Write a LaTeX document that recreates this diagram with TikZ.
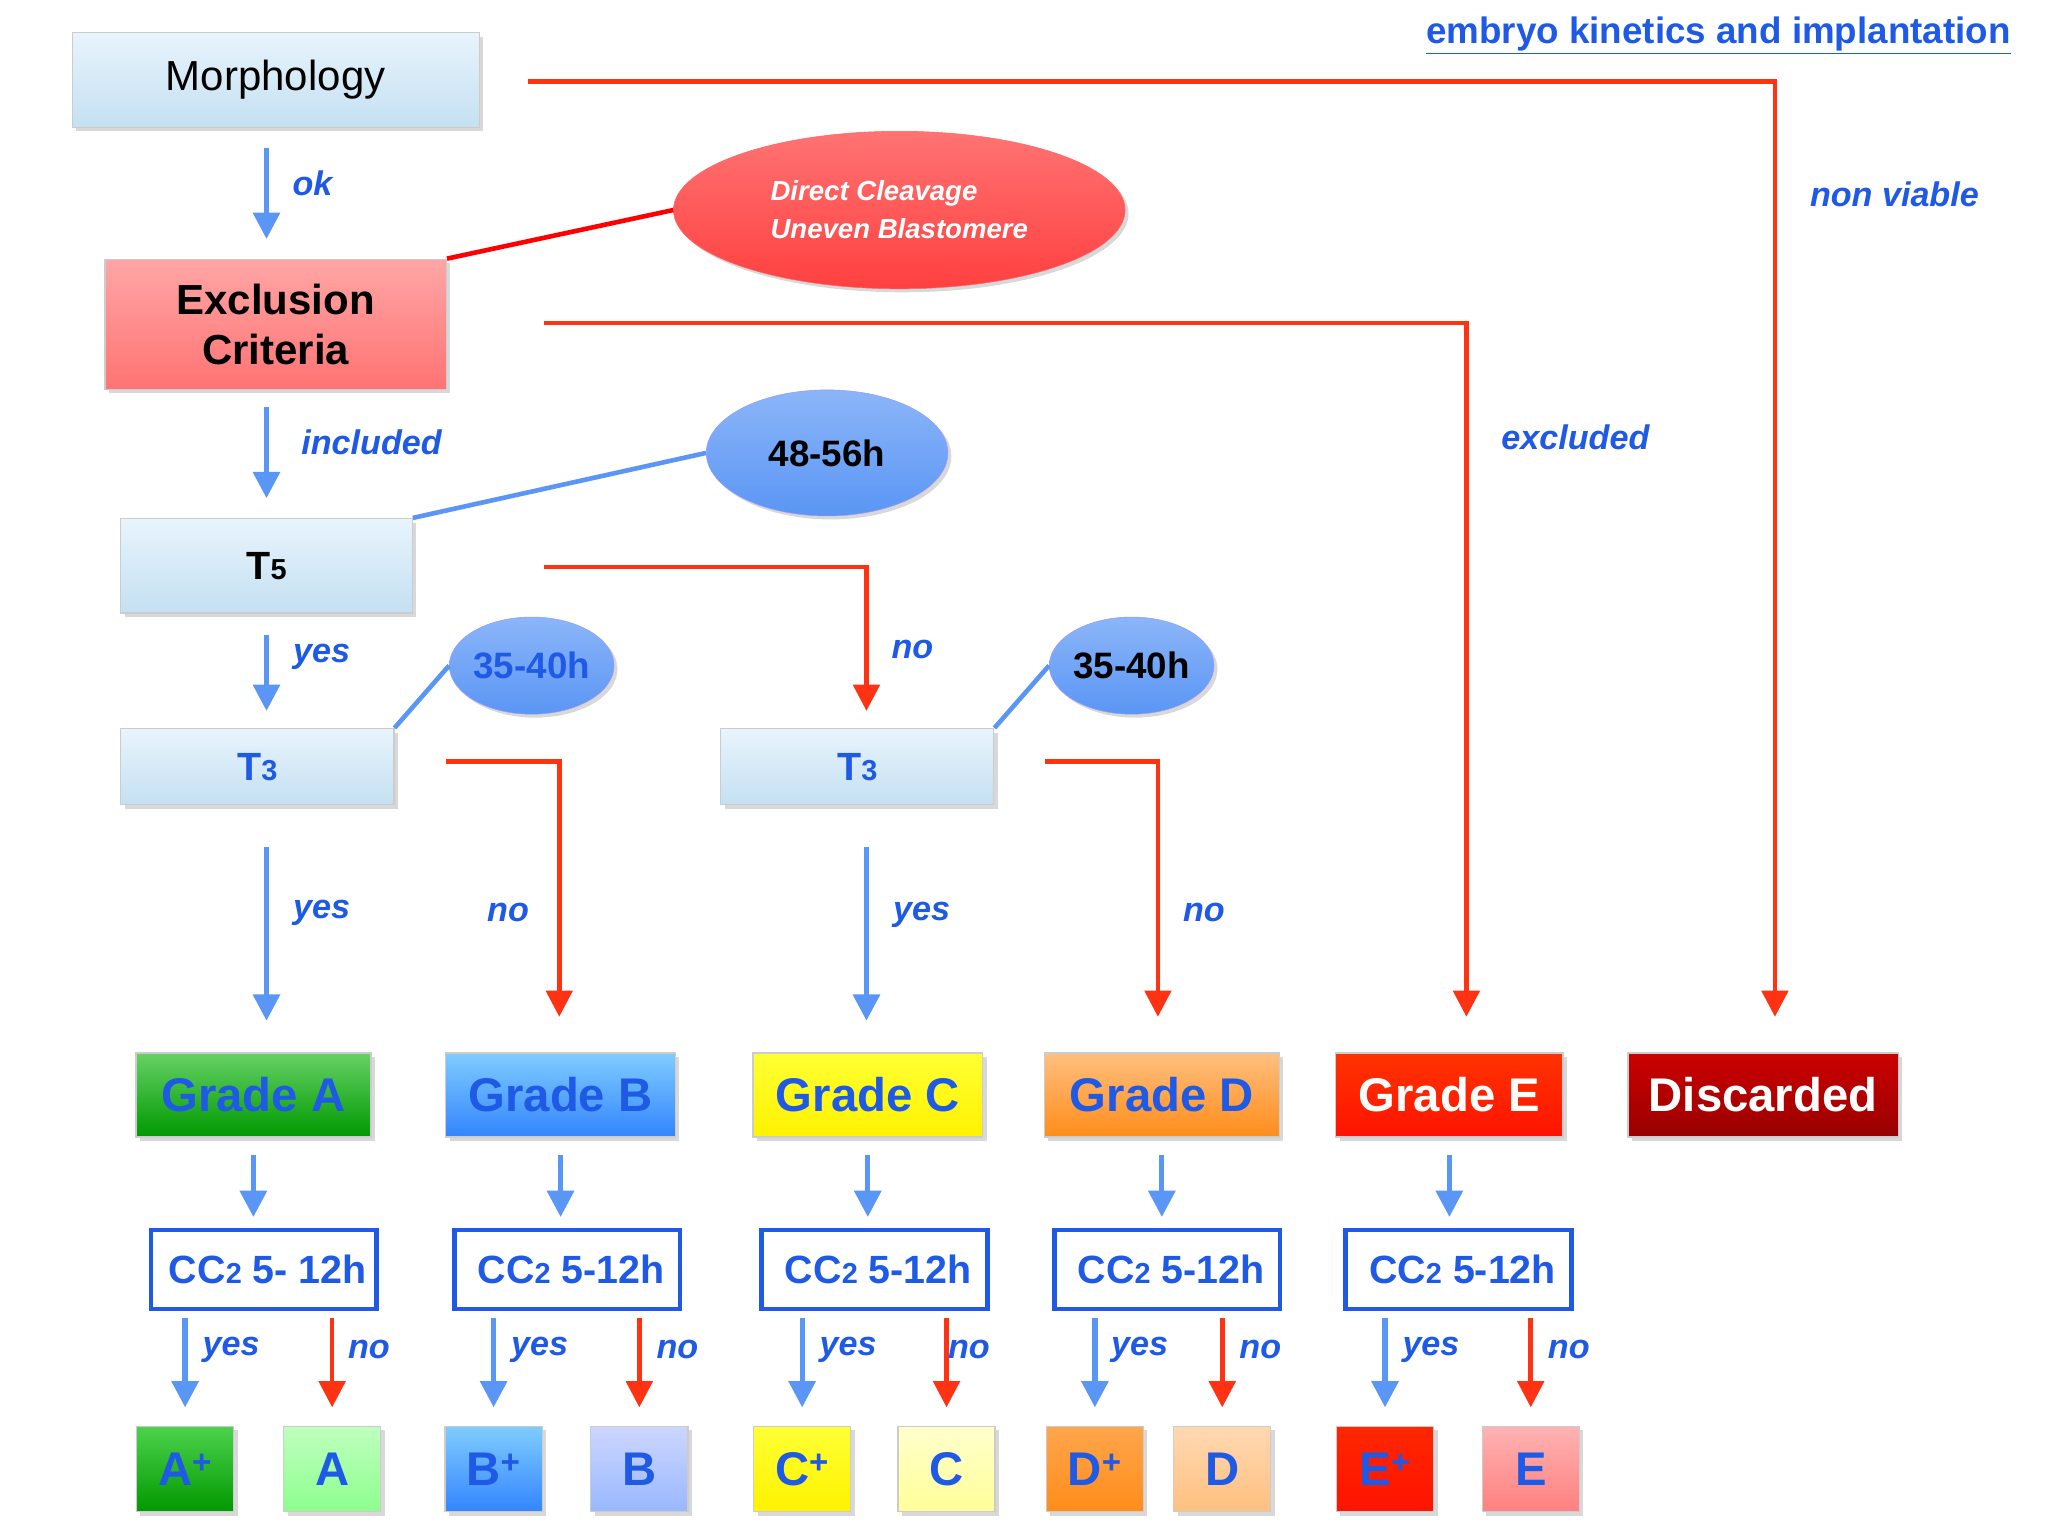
\documentclass[tikz,border=0pt]{standalone}
\usepackage{fontspec}
\setmainfont{Liberation Sans}
\usetikzlibrary{arrows.meta,calc,shapes.geometric,shadows}
\definecolor{lb}{RGB}{30,90,230}
\definecolor{ar}{RGB}{255,50,20}
\definecolor{ab}{RGB}{90,150,245}
\definecolor{ltop}{RGB}{232,244,252}
\definecolor{lbot}{RGB}{196,224,242}
\begin{document}
\begin{tikzpicture}[x=1pt,y=-1pt,
 bx/.style={draw=gray!40,line width=1pt,inner sep=0pt,drop shadow={opacity=0.3,shadow xshift=3pt,shadow yshift=-3pt}},
 lbox/.style={bx,top color=ltop,bottom color=lbot},
 lab/.style={text=lb,font=\fontsize{26}{28}\selectfont\bfseries\itshape},
 ba/.style={ab,line width=4pt,-{Triangle[width=20pt,length=20pt]}},
 ra/.style={ar,line width=3.5pt,-{Triangle[width=20pt,length=20pt]}},
 gr/.style={bx,font=\fontsize{36}{38}\selectfont\bfseries},
 cc/.style={draw=lb,line width=3.5pt,fill=white,inner sep=0pt,minimum width=175pt,minimum height=60pt,font=\fontsize{30}{32}\selectfont\bfseries,text=lb},
 sm/.style={bx,minimum width=74pt,minimum height=65pt,font=\fontsize{36}{38}\selectfont\bfseries,text=lb}]
\useasboundingbox[fill=white] (0,0) rectangle (1560,1170);
\node[anchor=east,text=lb,font=\fontsize{28}{30}\selectfont\bfseries] (title) at (1535,27) {\underline{embryo kinetics and implantation}};
\node[lbox,minimum width=310pt,minimum height=72pt,font=\fontsize{32}{34}\selectfont] (morph) at (210,61) {Morphology};
\node[bx,top color=red!35,bottom color=red!55,minimum width=260pt,minimum height=99pt,align=center,font=\fontsize{32}{38}\selectfont\bfseries] (excl) at (210,247) {Exclusion\\Criteria};
\node[ellipse,draw=red!60,top color=red!55,bottom color=red!75,minimum width=344pt,minimum height=120pt,inner sep=0pt,text=white,align=left,font=\fontsize{21}{29}\selectfont\bfseries\itshape,drop shadow={opacity=0.3}] (dc) at (685,160) {Direct Cleavage\\Uneven Blastomere};
\node[ellipse,draw=blue!40,top color=ab!70,bottom color=ab,minimum width=184pt,minimum height=96pt,font=\fontsize{28}{30}\selectfont\bfseries,drop shadow={opacity=0.3}] (h48) at (630,345) {48-56h};
\node[lbox,minimum width=222pt,minimum height=72pt,font=\fontsize{30}{32}\selectfont\bfseries] (t5) at (203,431) {T{\fontsize{22}{24}\selectfont 5}};
\node[ellipse,draw=blue!40,top color=ab!70,bottom color=ab,minimum width=110pt,minimum height=74pt,inner sep=0pt,text=lb,font=\fontsize{28}{30}\selectfont\bfseries,drop shadow={opacity=0.3}] (h35a) at (405,507) {35-40h};
\node[ellipse,draw=blue!40,top color=ab!70,bottom color=ab,minimum width=110pt,minimum height=74pt,inner sep=0pt,font=\fontsize{28}{30}\selectfont\bfseries,drop shadow={opacity=0.3}] (h35b) at (862,507) {35-40h};
\node[lbox,minimum width=208pt,minimum height=58pt,text=lb,font=\fontsize{30}{32}\selectfont\bfseries] (t3a) at (196,584) {T{\fontsize{22}{24}\selectfont 3}};
\node[lbox,minimum width=208pt,minimum height=58pt,text=lb,font=\fontsize{30}{32}\selectfont\bfseries] (t3b) at (653,584) {T{\fontsize{22}{24}\selectfont 3}};
% grades
\node[gr,top color=green!70!black!60,bottom color=green!60!black,minimum width=179pt,minimum height=64pt,text=lb] (ga) at (193,834) {Grade A};
\node[gr,top color=cyan!60!blue!50,bottom color=blue!60!cyan!80,minimum width=175pt,minimum height=64pt,text=lb] (gb) at (427,834) {Grade B};
\node[gr,top color=yellow!80,bottom color=yellow!90!orange,minimum width=175pt,minimum height=64pt,text=lb] (gc) at (661,834) {Grade C};
\node[gr,top color=orange!50,bottom color=orange!90,minimum width=179pt,minimum height=64pt,text=lb] (gd) at (885,834) {Grade D};
\node[gr,top color=red!60!orange,bottom color=red!85!orange,minimum width=173pt,minimum height=64pt,text=white] (ge) at (1104,834) {Grade E};
\node[gr,top color=red!80!black,bottom color=red!60!black,minimum width=206pt,minimum height=64pt,text=white] (gx) at (1343,834) {Discarded};
% CC2
\foreach \n/\x/\t in {a/201/CC{\fontsize{22}{24}\selectfont 2} 5- 12h,b/432/CC{\fontsize{22}{24}\selectfont 2} 5-12h,c/666/CC{\fontsize{22}{24}\selectfont 2} 5-12h,d/889/CC{\fontsize{22}{24}\selectfont 2} 5-12h,e/1111/CC{\fontsize{22}{24}\selectfont 2} 5-12h}
  \node[cc,minimum width=172pt] (cc\n) at (\x,967) {\hspace*{6pt}\t};
% small
\node[sm,top color=green!75!black!70,bottom color=green!60!black] (ap) at (141,1119) {A\textsuperscript{+}};
\node[sm,top color=green!25,bottom color=green!45] (am) at (253,1119) {A};
\node[sm,top color=cyan!60!blue!50,bottom color=blue!60!cyan!80] (bp) at (376,1119) {B\textsuperscript{+}};
\node[sm,top color=cyan!20!blue!20,bottom color=cyan!30!blue!40] (bm) at (487,1119) {B};
\node[sm,top color=yellow!80,bottom color=yellow!90!orange] (cp) at (611,1119) {C\textsuperscript{+}};
\node[sm,top color=yellow!20,bottom color=yellow!40] (cm) at (721,1119) {C};
\node[sm,top color=orange!70,bottom color=orange!90] (dp) at (834,1119) {D\textsuperscript{+}};
\node[sm,top color=orange!30,bottom color=orange!50] (dm) at (931,1119) {D};
\node[sm,top color=red!70!orange,bottom color=red!85!orange] (ep) at (1055,1119) {E\textsuperscript{+}};
\node[sm,top color=red!30,bottom color=red!50] (em) at (1166,1119) {E};
% connectors
\draw[red,line width=3.5pt] (excl.north east) -- (dc.west);
\draw[ab,line width=3.5pt] (t5.north east) -- (h48.west);
\draw[ab,line width=3.5pt] (t3a.north east) -- (h35a.west);
\draw[ab,line width=3.5pt] (t3b.north east) -- (h35b.west);
% blue arrows
\draw[ba] ($(morph.south)+(-7,15)$) -- ($(excl.north)+(-7,-15)$);
\draw[ba] ($(excl.south)+(-7,13)$) -- ($(t5.north)+(0,-15)$);
\draw[ba] ($(t5.south)+(0,16)$) -- ($(t3a.north)+(7,-13)$);
\draw[ba] ($(t3a.south)+(7,32)$) -- ($(ga.north)+(10,-24)$);
\draw[ba] ($(t3b.south)+(7,32)$) -- ($(gc.north)+(-1,-24)$);
\foreach \g/\c in {ga/cca,gb/ccb,gc/ccc,gd/ccd,ge/cce}
  \draw[ba] (\g.south|-0,880) -- (\g.south|-0,927);
\foreach \c/\p/\m in {cca/ap/am,ccb/bp/bm,ccc/cp/cm,ccd/dp/dm,cce/ep/em}{
  \draw[ba] (\p.north|-\c.south) ++(0,5) -- ($(\p.north)+(0,-14)$);
  \draw[ra] (\m.north|-\c.south) ++(0,5) -- ($(\m.north)+(0,-14)$);}
% red arrows
\draw[ra] (402,62) -- (1352,62) -- ($(gx.north)+(9,-27)$);
\draw[ra] (414,246) -- (1117,246) -- ($(ge.north)+(13,-27)$);
\draw[ra] (414,432) -- (660,432) -- ($(t3b.north)+(7,-13)$);
\draw[ra] (340,580) -- (426,580) -- ($(gb.north)+(-1,-27)$);
\draw[ra] (796,580) -- (882,580) -- ($(gd.north)+(-3,-27)$);
% labels
\node[lab] (l1) at (238,140) {ok};
\node[lab] (l2) at (283,337) {included};
\node[lab] (l3) at (245,500) {yes};
\node[lab] (l4) at (695,495) {no};
\node[lab] (l5) at (245,695) {yes};
\node[lab] (l6) at (387,695) {no};
\node[lab] (l7) at (702,697) {yes};
\node[lab] (l8) at (917,695) {no};
\node[lab] (l9) at (1200,333) {excluded};
\node[lab] (l10) at (1443,148) {non viable};
\foreach \x/\w in {176/yes,281/no,411/yes,516/no,646/yes,738/no,868/yes,960/no,1090/yes,1195/no}
  \node[lab] at (\x,1028) {\w};
\end{tikzpicture}
\end{document}
